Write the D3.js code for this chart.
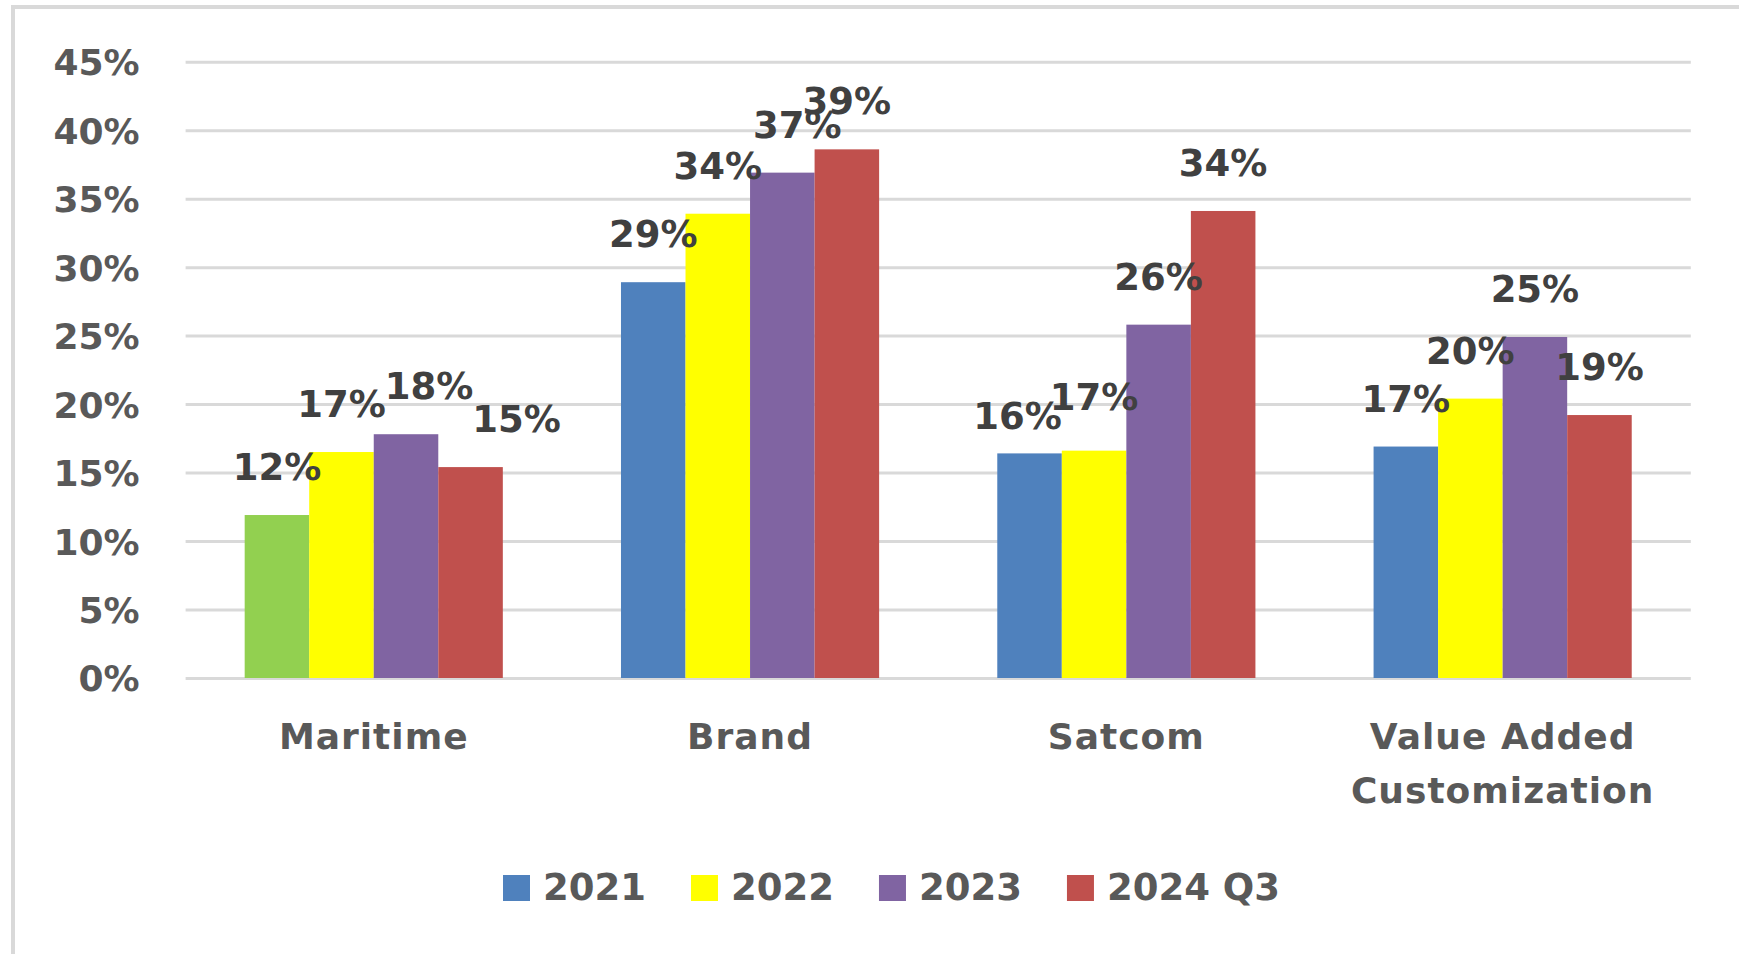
<!DOCTYPE html>
<html>
<head>
<meta charset="utf-8">
<script src="https://cdn.jsdelivr.net/npm/d3@7"></script>
<style>
  html, body { margin: 0; padding: 0; background: #ffffff; }
  svg { display: block; }
</style>
</head>
<body>
<svg id="chart" width="1739" height="954"></svg>
<script>
// ---------- data ----------
const categories = ["Maritime", "Brand", "Satcom", "Value Added Customization"];
const categoryLines = [["Maritime"], ["Brand"], ["Satcom"], ["Value Added", "Customization"]];
const seriesNames = ["2021", "2022", "2023", "2024 Q3"];
const values2021 = [11.9, 28.9, 16.4, 16.9];
const values2022 = [16.5, 33.9, 16.6, 20.4];
const values2023 = [17.8, 36.9, 25.8, 24.9];
const values2024Q3 = [15.4, 38.6, 34.1, 19.2];
const yTicks = [0, 5, 10, 15, 20, 25, 30, 35, 40, 45];

// ---------- style ----------
const seriesColors = ["#4F81BD", "#FFFF00", "#8064A2", "#C0504D"];
const pointColorOverride = { "Maritime|2021": "#92D050" };
// manual label nudges (as in the original chart), in px relative to default place
const labelNudge = {
  "Maritime|2023": [23, 0],
  "Maritime|2024 Q3": [46, 0],
  "Brand|2023": [15, 0],
  "Satcom|2021": [-12, 11],
  "Satcom|2022": [0, -6]
};
const FONT = "'DejaVu Sans', sans-serif";
const textGray = "#595959";
const labelGray = "#404040";
const gridGray = "#D9D9D9";

const seriesValues = [values2021, values2022, values2023, values2024Q3];

const svg = d3.select("#chart");

// outer chart border (left and top visible)
svg.append("rect")
  .attr("x", 13).attr("y", 7)
  .attr("width", 1800).attr("height", 1000)
  .attr("fill", "none")
  .attr("stroke", gridGray)
  .attr("stroke-width", 4);

const x0 = d3.scaleBand()
  .domain(categories)
  .range([185.6, 1690.8])
  .paddingInner(0.314)
  .paddingOuter(0.157);

const x1 = d3.scaleBand()
  .domain(seriesNames)
  .range([0, x0.bandwidth()]);

const y = d3.scaleLinear().domain([0, 45]).range([678, 61.7]);

// gridlines
const yAxis = d3.axisLeft(y)
  .tickValues(yTicks)
  .tickSize(-(1690.8 - 185.6))
  .tickPadding(46)
  .tickFormat(d => d + "%");

const gAxis = svg.append("g")
  .attr("transform", "translate(185.6,0)")
  .call(yAxis);
gAxis.select(".domain").remove();
gAxis.selectAll(".tick line")
  .attr("stroke", gridGray)
  .attr("stroke-width", 3);
gAxis.selectAll(".tick text")
  .attr("fill", textGray)
  .attr("font-family", FONT)
  .attr("font-weight", "bold")
  .attr("font-size", 36)
  .attr("dy", "0.36em");

// bars
const flat = [];
categories.forEach((c, ci) => {
  seriesNames.forEach((s, si) => {
    flat.push({ cat: c, series: s, si: si, value: seriesValues[si][ci] });
  });
});

svg.append("g").selectAll("rect")
  .data(flat)
  .join("rect")
  .attr("x", d => x0(d.cat) + x1(d.series))
  .attr("y", d => y(d.value))
  .attr("width", x1.bandwidth())
  .attr("height", d => y(0) - y(d.value))
  .attr("fill", d => pointColorOverride[d.cat + "|" + d.series] || seriesColors[d.si]);

// data labels
svg.append("g").selectAll("text")
  .data(flat)
  .join("text")
  .attr("x", d => x0(d.cat) + x1(d.series) + x1.bandwidth() / 2 + ((labelNudge[d.cat + "|" + d.series] || [0, 0])[0]))
  .attr("y", d => y(d.value) - 35 + ((labelNudge[d.cat + "|" + d.series] || [0, 0])[1]))
  .attr("text-anchor", "middle")
  .attr("font-family", FONT)
  .attr("font-weight", "bold")
  .attr("font-size", 37)
  .attr("fill", labelGray)
  .text(d => Math.round(d.value) + "%");

// category labels
const catG = svg.append("g");
categories.forEach((c, ci) => {
  const t = catG.append("text")
    .attr("x", x0(c) + x0.bandwidth() / 2)
    .attr("y", 749)
    .attr("text-anchor", "middle")
    .attr("font-family", FONT)
    .attr("font-weight", "bold")
    .attr("font-size", 36)
    .attr("letter-spacing", 1)
    .attr("fill", textGray);
  categoryLines[ci].forEach((line, li) => {
    t.append("tspan")
      .attr("x", x0(c) + x0.bandwidth() / 2)
      .attr("dy", li === 0 ? 0 : 54)
      .text(line);
  });
});

// legend
const legend = svg.append("g");
let lx = 503;
seriesNames.forEach((s, si) => {
  legend.append("rect")
    .attr("x", lx).attr("y", 875)
    .attr("width", 27).attr("height", 26)
    .attr("fill", seriesColors[si]);
  const t = legend.append("text")
    .attr("x", lx + 40).attr("y", 900)
    .attr("font-family", FONT)
    .attr("font-weight", "bold")
    .attr("font-size", 37)
    .attr("fill", textGray)
    .text(s);
  const w = t.node().getComputedTextLength();
  lx = lx + 40 + w + 45;
});
</script>
</body>
</html>
